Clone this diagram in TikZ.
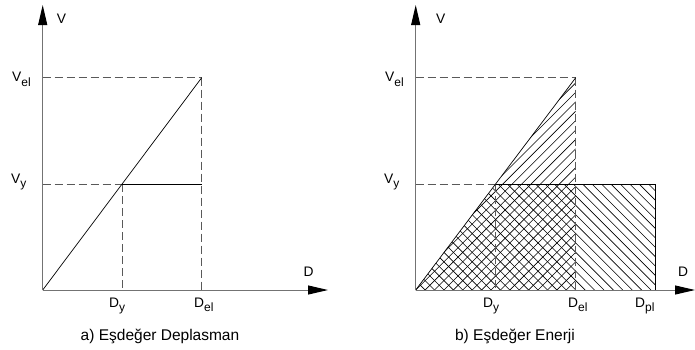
\documentclass[tikz,border=0pt]{standalone}
\usepackage{fontspec}
\setmainfont{Liberation Sans}
\usetikzlibrary{arrows.meta}
\newcommand{\lowsub}[1]{\raisebox{-4.5pt}{\fontsize{12}{13}\selectfont #1}}
\begin{document}
\begin{tikzpicture}[x=1pt,y=-1pt,
  axis/.style={draw=black!55, line width=1pt, -{Triangle[length=20pt,width=9pt,color=black]}},
  guide/.style={draw=black!65, line width=0.8pt, dash pattern=on 8pt off 4pt},
  curve/.style={draw=black, line width=0.7pt},
  hatch/.style={draw=black, line width=0.6pt},
  lbl/.style={font=\fontsize{13.8}{15}\selectfont, inner sep=0pt},
  captxt/.style={font=\fontsize{15.5}{18}\selectfont, inner sep=0pt}]
\useasboundingbox (0,0) rectangle (695,349);

% ---------- left panel ----------
\coordinate (aO) at (42.7,290);
\coordinate (aY) at (122.3,184.3);
\coordinate (aE) at (201.7,77.7);
\coordinate (aVt) at (42.7,5);
\coordinate (aDt) at (328,290);
\draw[guide] (aO |- aE) -- (aE);
\draw[guide] (aO |- aY) -- (aY);
\draw[guide] (aE) -- (aE |- aO);
\draw[guide] (aY) -- (aY |- aO);
\draw[curve] (aO) -- (aE);
\draw[curve] (aY) -- (aE |- aY);
\draw[axis] (aO) -- (aVt);
\draw[axis] (aO) -- (aDt);
\node[lbl, anchor=base west] (aV) at (56.7,23.3) {V};
\node[lbl, anchor=base west] (aD) at (303.3,276.7) {D};
\node[lbl, anchor=base west] (aVel) at (12,81.7) {V\lowsub{el}};
\node[lbl, anchor=base west] (aVy) at (11,183.3) {V\lowsub{y}};
\node[lbl, anchor=base west] (aDy) at (109,307.3) {D\lowsub{y}};
\node[lbl, anchor=base west] (aDel) at (194,307.3) {D\lowsub{el}};
\node[captxt] (acap) at (160,336) {a) Eşdeğer Deplasman};

% ---------- right panel ----------
\coordinate (bO) at (415.7,290);
\coordinate (bY) at (495.7,184.3);
\coordinate (bE) at (575.7,77.7);
\coordinate (bP) at (655.3,184.3);
\coordinate (bVt) at (415.7,5);
\coordinate (bDt) at (695,290);
\begin{scope}
  \clip (bO) -- (bE) -- (bE |- bO) -- cycle;
  \foreach \k in {-24,...,18} \draw[hatch] ({415.7+9.412*\k},290) -- ++(330,-330);
\end{scope}
\begin{scope}
  \clip (bO) -- (bY) -- (bP) -- (bP |- bO) -- cycle;
  \foreach \k in {-1,...,40} \draw[hatch] ({415.7+9.412*\k},290) -- ++(-330,-330);
\end{scope}
\draw[guide] (bO |- bE) -- (bE);
\draw[guide] (bO |- bY) -- (bY);
\draw[guide] (bE) -- (bE |- bO);
\draw[guide] (bY) -- (bY |- bO);
\draw[curve] (bO) -- (bE);
\draw[curve] (bY) -- (bP) -- (bP |- bO);
\draw[axis] (bO) -- (bVt);
\draw[axis] (bO) -- (bDt);
\node[lbl, anchor=base west] (bV) at (436,23.3) {V};
\node[lbl, anchor=base west] (bD) at (678,276.7) {D};
\node[lbl, anchor=base west] (bVel) at (385,81.7) {V\lowsub{el}};
\node[lbl, anchor=base west] (bVy) at (384,183.3) {V\lowsub{y}};
\node[lbl, anchor=base west] (bDy) at (483,307.3) {D\lowsub{y}};
\node[lbl, anchor=base west] (bDel) at (568,307.3) {D\lowsub{el}};
\node[lbl, anchor=base west] (bDpl) at (635,307.3) {D\lowsub{pl}};
\node[captxt] (bcap) at (515,336) {b) Eşdeğer Enerji};
\end{tikzpicture}
\end{document}
